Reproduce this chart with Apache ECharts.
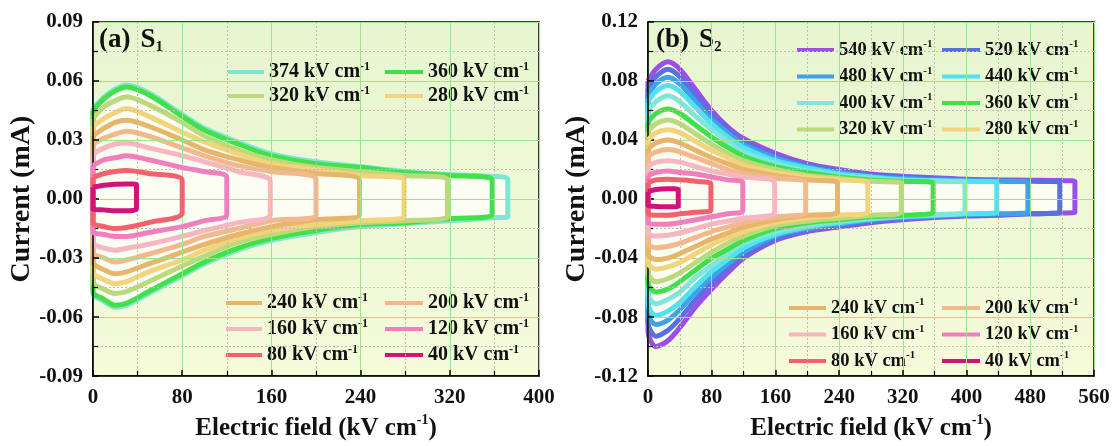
<!DOCTYPE html>
<html><head><meta charset="utf-8">
<script src="https://cdn.jsdelivr.net/npm/echarts@6/dist/echarts.min.js"></script>
<style>html,body{margin:0;padding:0;background:#fff}#c{width:1117px;height:446px}</style>
</head><body><div id="c"></div>
<script>
// ---------- Panel (a) S1 ----------
const gridEA = [0,10,20,30,50,80,100,130,160,200,240,280,320,360];
const fieldsA = [374,360,320,280,240,200,160,120,80,40];
const endsA   = [372,358,318,279,239,200,159,120,80,39];
const colorsA = ['#7fe6d6','#42e04a','#bcd97c','#f2d47c','#e8b56c','#f2b98e','#f7b7c0','#ef80bd','#ef626e','#d3137a'];
const upA374 = [0.046,0.052,0.056,0.058,0.054,0.043,0.036,0.029,0.023,0.019,0.0165,0.014,0.0125,0.0115,0.010];
const loA374 = [-0.048,-0.052,-0.055,-0.054,-0.048,-0.039,-0.033,-0.026,-0.021,-0.017,-0.014,-0.0125,-0.011,-0.0095,-0.009];
const upA360 = [0.045,0.051,0.055,0.057,0.053,0.042,0.035,0.028,0.022,0.018,0.016,0.0135,0.012,0.010];
const loA360 = [-0.047,-0.051,-0.054,-0.053,-0.047,-0.038,-0.032,-0.025,-0.020,-0.016,-0.013,-0.012,-0.010,-0.008];
const upA320 = [0.041,0.047,0.050,0.052,0.048,0.039,0.032,0.025,0.020,0.016,0.014,0.012,0.010];
const loA320 = [-0.042,-0.046,-0.048,-0.047,-0.042,-0.034,-0.029,-0.022,-0.018,-0.014,-0.012,-0.011,-0.009];
const upA280 = [0.037,0.041,0.044,0.046,0.042,0.034,0.029,0.023,0.018,0.015,0.012,0.010];
const loA280 = [-0.037,-0.041,-0.043,-0.042,-0.037,-0.031,-0.026,-0.020,-0.016,-0.013,-0.011,-0.009];
const upA240 = [0.032,0.036,0.039,0.040,0.037,0.030,0.025,0.020,0.016,0.013,0.0095];
const loA240 = [-0.032,-0.036,-0.038,-0.037,-0.033,-0.027,-0.023,-0.018,-0.014,-0.0105,-0.008];
const upA200 = [0.028,0.031,0.033,0.0345,0.032,0.026,0.022,0.017,0.014,0.010];
const loA200 = [-0.027,-0.030,-0.032,-0.031,-0.028,-0.023,-0.019,-0.015,-0.011,-0.008];
const upA160 = [0.023,0.026,0.028,0.0285,0.026,0.022,0.019,0.014,0.009];
const loA160 = [-0.022,-0.025,-0.026,-0.025,-0.023,-0.019,-0.016,-0.012,-0.008];
const upA120 = [0.017,0.020,0.021,0.022,0.020,0.016,0.014,0.011];
const loA120 = [-0.0165,-0.018,-0.019,-0.019,-0.017,-0.014,-0.011,-0.008];
const upA80 = [0.011,0.013,0.014,0.0145,0.013,0.0095];
const loA80 = [-0.012,-0.014,-0.015,-0.0145,-0.012,-0.007];
const upA40 = [0.006,0.007,0.0075,0.0077,0.0075];
const loA40 = [-0.005,-0.0055,-0.006,-0.006,-0.005];
const upperA = [upA374,upA360,upA320,upA280,upA240,upA200,upA160,upA120,upA80,upA40];
const lowerA = [loA374,loA360,loA320,loA280,loA240,loA200,loA160,loA120,loA80,loA40];

// ---------- Panel (b) S2 ----------
const gridEB = [0,10,25,40,60,80,100,120,160,200,240,280,320,360,400,440,480,520];
const fieldsB = [540,520,480,440,400,360,320,280,240,200,160,120,80,40];
const endsB   = [536,517,477,438,398,358,318,276,238,198,159,119,79,38];
const colorsB = ['#9a50e6','#5a6fe0','#3fa2e8','#50e2f0','#80e6dc','#40e04a','#bcd97c','#f2d47c','#e8b56c','#f2b98e','#f7b7c0','#ef80bd','#ef626e','#d3137a'];
const upB540 = [0.080,0.088,0.093,0.088,0.074,0.060,0.049,0.041,0.031,0.024,0.020,0.017,0.0155,0.0145,0.0135,0.013,0.0128,0.0125,0.012];
const loB540 = [-0.090,-0.100,-0.096,-0.087,-0.073,-0.061,-0.050,-0.040,-0.028,-0.022,-0.019,-0.016,-0.014,-0.0125,-0.0115,-0.011,-0.010,-0.0095,-0.009];
const upB520 = [0.075,0.083,0.088,0.083,0.070,0.057,0.047,0.039,0.029,0.023,0.019,0.016,0.015,0.014,0.013,0.0125,0.012,0.0115];
const loB520 = [-0.084,-0.093,-0.089,-0.081,-0.068,-0.057,-0.047,-0.038,-0.027,-0.021,-0.018,-0.015,-0.013,-0.012,-0.011,-0.0105,-0.010,-0.009];
const upB480 = [0.070,0.078,0.0825,0.078,0.066,0.054,0.045,0.037,0.028,0.022,0.018,0.015,0.014,0.013,0.0125,0.012,0.0115];
const loB480 = [-0.077,-0.085,-0.082,-0.075,-0.063,-0.053,-0.044,-0.036,-0.025,-0.020,-0.017,-0.014,-0.0125,-0.0115,-0.0105,-0.010,-0.009];
const upB440 = [0.066,0.073,0.077,0.073,0.062,0.051,0.042,0.035,0.026,0.021,0.017,0.015,0.013,0.0125,0.012,0.0115];
const loB440 = [-0.071,-0.079,-0.076,-0.070,-0.059,-0.049,-0.041,-0.033,-0.024,-0.019,-0.016,-0.0135,-0.012,-0.011,-0.010,-0.009];
const upB400 = [0.060,0.066,0.070,0.066,0.056,0.047,0.039,0.032,0.024,0.019,0.016,0.014,0.0125,0.012,0.0115];
const loB400 = [-0.064,-0.071,-0.068,-0.063,-0.053,-0.045,-0.037,-0.030,-0.022,-0.018,-0.015,-0.013,-0.0115,-0.0105,-0.009];
const upB360 = [0.052,0.058,0.061,0.058,0.050,0.042,0.035,0.029,0.022,0.018,0.015,0.013,0.012,0.011];
const loB360 = [-0.057,-0.063,-0.061,-0.056,-0.048,-0.040,-0.034,-0.028,-0.020,-0.016,-0.014,-0.012,-0.011,-0.009];
const upB320 = [0.046,0.051,0.0535,0.051,0.044,0.037,0.031,0.026,0.020,0.016,0.014,0.012,0.011];
const loB320 = [-0.050,-0.056,-0.054,-0.050,-0.043,-0.036,-0.030,-0.025,-0.018,-0.015,-0.013,-0.011,-0.009];
const upB280 = [0.040,0.045,0.047,0.045,0.039,0.033,0.028,0.023,0.018,0.015,0.013,0.011];
const loB280 = [-0.043,-0.0475,-0.046,-0.043,-0.037,-0.031,-0.026,-0.022,-0.016,-0.013,-0.011,-0.009];
const upB240 = [0.034,0.038,0.040,0.038,0.033,0.028,0.024,0.020,0.016,0.013,0.011];
const loB240 = [-0.037,-0.041,-0.040,-0.037,-0.032,-0.027,-0.023,-0.019,-0.014,-0.011,-0.009];
const upB200 = [0.029,0.032,0.0335,0.032,0.028,0.024,0.020,0.017,0.014,0.011];
const loB200 = [-0.030,-0.033,-0.032,-0.030,-0.026,-0.022,-0.019,-0.016,-0.012,-0.009];
const upB160 = [0.022,0.025,0.026,0.025,0.022,0.019,0.017,0.015,0.011];
const loB160 = [-0.023,-0.025,-0.0245,-0.023,-0.020,-0.017,-0.015,-0.013,-0.009];
const upB120 = [0.016,0.018,0.019,0.018,0.017,0.015,0.013,0.011];
const loB120 = [-0.016,-0.017,-0.017,-0.016,-0.014,-0.012,-0.010,-0.008];
const upB80 = [0.011,0.013,0.0135,0.013,0.012,0.010];
const loB80 = [-0.010,-0.011,-0.011,-0.010,-0.009,-0.0075];
const upB40 = [0.005,0.0065,0.007,0.0065];
const loB40 = [-0.004,-0.005,-0.0053,-0.005];
const upperB = [upB540,upB520,upB480,upB440,upB400,upB360,upB320,upB280,upB240,upB200,upB160,upB120,upB80,upB40];
const lowerB = [loB540,loB520,loB480,loB440,loB400,loB360,loB320,loB280,loB240,loB200,loB160,loB120,loB80,loB40];

// legend groups (series names carry panel prefix)
const legATop1 = ['a374','a320'], legATop2 = ['a360','a280'];
const legABot1 = ['a240','a160','a80'], legABot2 = ['a200','a120','a40'];
const legBTop1 = ['b540','b480','b400','b320'], legBTop2 = ['b520','b440','b360','b280'];
const legBBot1 = ['b240','b160','b80'], legBBot2 = ['b200','b120','b40'];

const FONT = '"Liberation Serif","Times New Roman",serif';
const chart = echarts.init(document.getElementById('c'), null, {renderer:'canvas'});

function fieldsOf(grid, end){ return grid.filter(e => e < end).concat([end]); }
function loopData(grid, end, up, lo){
  const E = fieldsOf(grid, end);
  const d = E.map((e,j) => [e, up[j]]);
  for (let j = E.length-1; j >= 0; j--) d.push([E[j], lo[j]]);
  d.push([E[0], up[0]]);
  return d;
}
const series = [];
function addPanel(p, gi, grid, fields, ends, ups, los, colors){
  const E0 = fieldsOf(grid, ends[0]);
  [ups[0], los[0]].forEach((arr,k) => {
    series.push({type:'line', name:'fill'+p+k, xAxisIndex:gi, yAxisIndex:gi, silent:true,
      data:E0.map((e,j)=>[e,arr[j]]), showSymbol:false, smooth:0.3, z:1,
      lineStyle:{width:0, opacity:0}, areaStyle:{color:'#fcfef4', opacity:1}, itemStyle:{color:'#fcfef4'}});
  });
  fields.forEach((f,i) => {
    series.push({type:'line', name:p+f, xAxisIndex:gi, yAxisIndex:gi,
      data:loopData(grid, ends[i], ups[i], los[i]), showSymbol:false, smooth:0.3, z:3+i,
      lineStyle:{width:5, color:colors[i]}, itemStyle:{color:colors[i]}});
  });
}
addPanel('a', 0, gridEA, fieldsA, endsA, upperA, lowerA, colorsA);
addPanel('b', 1, gridEB, fieldsB, endsB, upperB, lowerB, colorsB);

const bg = new echarts.graphic.LinearGradient(0,0,0,1,[{offset:0,color:'#e7f5d0'},{offset:1,color:'#f5fbdb'}]);
const gridBase = {top:22, height:360, width:446, show:true, backgroundColor:bg, borderColor:'#000', borderWidth:1.5};

function nameRich(sz){
  return {
    t:{fontFamily:FONT, fontWeight:'bold', fontSize:sz, color:'#111', lineHeight:sz+6},
    s:{fontFamily:FONT, fontWeight:'bold', fontSize:Math.round(sz*0.58), color:'#111', verticalAlign:'top', lineHeight:Math.round(sz*0.66)}
  };
}
function xAx(gi, max){
  return {type:'value', gridIndex:gi, min:0, max:max, interval:80, z:10,
    name:'{t|Electric field (kV cm}{s|-1}{t|)}', nameLocation:'middle', nameGap:34,
    nameTextStyle:{rich:nameRich(25)},
    axisLine:{show:true, onZero:false, lineStyle:{color:'#000', width:1.5}},
    axisTick:{show:true, inside:true, length:6, lineStyle:{color:'#000', width:1.5}},
    minorTick:{show:true, splitNumber:2, length:5, lineStyle:{color:'#000', width:1.2}},
    splitLine:{show:true, lineStyle:{color:'#9fe38f', width:1}},
    minorSplitLine:{show:true, lineStyle:{color:'#b9c2ad', width:1, type:[2,2]}},
    axisLabel:{fontFamily:FONT, fontWeight:'bold', fontSize:21, color:'#111', margin:11}};
}
function yAx(gi, lim, step){
  return {type:'value', gridIndex:gi, min:-lim, max:lim, interval:step, z:10,
    name:'{t|Current (mA)}', nameLocation:'middle', nameGap:54,
    nameTextStyle:{rich:nameRich(28)},
    axisLine:{show:true, onZero:false, lineStyle:{color:'#000', width:1.5}},
    axisTick:{show:true, inside:true, length:6, lineStyle:{color:'#000', width:1.5}},
    minorTick:{show:true, splitNumber:2, length:5, lineStyle:{color:'#000', width:1.2}},
    splitLine:{show:true, lineStyle:{color:'#9fe38f', width:1}},
    minorSplitLine:{show:true, lineStyle:{color:'#b9c2ad', width:1, type:[2,2]}},
    axisLabel:{fontFamily:FONT, fontWeight:'bold', fontSize:21, color:'#111', margin:10,
      formatter: v => (Math.abs(v) < 1e-9 ? 0 : v).toFixed(2)}};
}
function legRich(sz){
  return {
    v:{fontFamily:FONT, fontWeight:'bold', fontSize:sz, color:'#111', lineHeight:22},
    s:{fontFamily:FONT, fontWeight:'bold', fontSize:Math.round(sz*0.6), color:'#111', verticalAlign:'top', lineHeight:13}
  };
}
function leg(names, left, top, gap, sz, w){
  return {data:names, orient:'vertical', left:left, top:top, itemGap:gap, itemWidth:w, itemHeight:4,
    icon:'rect', padding:0, selectedMode:false, backgroundColor:'transparent',
    formatter: n => '{v|' + n.slice(1) + ' kV cm}{s|-1}', textStyle:{rich:legRich(sz)}};
}
const titleRich = {
  p:{fontFamily:FONT, fontWeight:'bold', fontSize:27, color:'#111', lineHeight:30},
  S:{fontFamily:FONT, fontWeight:'bold', fontSize:27, color:'#111', lineHeight:30},
  b:{fontFamily:FONT, fontWeight:'bold', fontSize:15, color:'#111', verticalAlign:'bottom', lineHeight:22}
};

chart.setOption({
  animation:false,
  title:[
    {text:'{p|(a)}  {S|S}{b|1}', left:99, top:25, padding:0, textStyle:{rich:titleRich}},
    {text:'{p|(b)}  {S|S}{b|2}', left:656, top:25, padding:0, textStyle:{rich:titleRich}}
  ],
  legend:[
    leg(legATop1, 228, 61, 3, 20, 36), leg(legATop2, 385, 61, 3, 20, 38),
    leg(legABot1, 226, 292, 5, 20, 36), leg(legABot2, 385, 292, 5, 20, 38),
    leg(legBTop1, 797, 39, 6, 18.5, 37), leg(legBTop2, 942, 39, 6, 18.5, 38),
    leg(legBBot1, 789, 297, 6, 18.5, 37), leg(legBBot2, 942, 297, 6, 18.5, 38)
  ],
  grid:[Object.assign({left:93}, gridBase), Object.assign({left:648}, gridBase)],
  xAxis:[xAx(0,400), xAx(1,560)],
  yAxis:[yAx(0,0.09,0.03), yAx(1,0.12,0.04)],
  series:series
});
</script></body></html>
